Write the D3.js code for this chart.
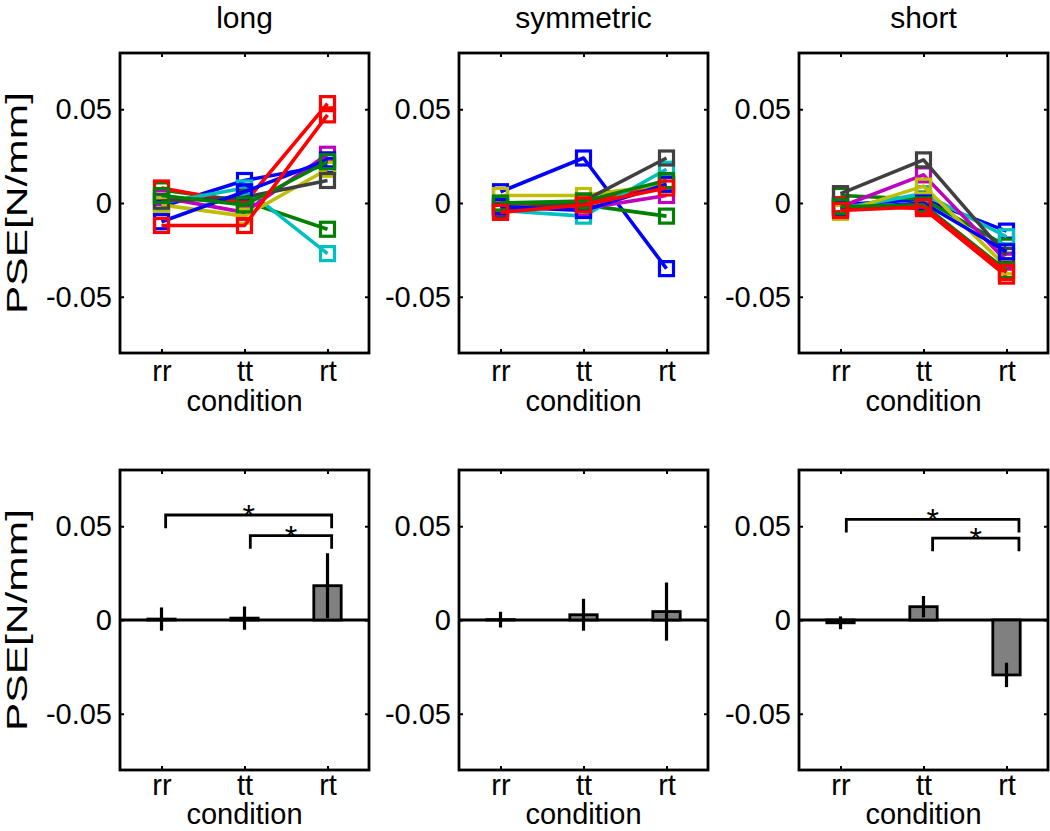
<!DOCTYPE html>
<html><head><meta charset="utf-8">
<script src="https://cdn.jsdelivr.net/npm/d3@7"></script>
<style>
body{margin:0;background:#fff;}
text{font-family:"Liberation Sans",Arial,Helvetica,sans-serif;fill:#000;}
</style></head>
<body><svg id="c" width="1050" height="831"></svg>
<script>
// ---- data ----
const conditions = ["rr", "tt", "rt"];
const panelTitles = ["long", "symmetric", "short"];
const subjectColors = ["#0000ff","#008000","#ff0000","#00bfbf","#bf00bf","#bfbf00","#404040","#0000ff","#008000","#ff0000"];
// PSE per subject [rr, tt, rt]
const longPSE = [
  [-0.002, 0.012, 0.020],
  [0.007, 0.001, -0.014],
  [0.008, 0.000, 0.053],
  [0.000, 0.008, -0.027],
  [0.003, -0.005, 0.026],
  [-0.001, -0.007, 0.018],
  [0.001, 0.003, 0.012],
  [-0.010, 0.006, 0.023],
  [0.004, -0.001, 0.022],
  [-0.012, -0.012, 0.047]
];
const symPSE = [
  [0.006, 0.024, -0.035],
  [-0.001, -0.001, -0.007],
  [-0.003, 0.000, 0.010],
  [-0.004, -0.007, 0.018],
  [-0.002, -0.003, 0.004],
  [0.004, 0.004, 0.010],
  [-0.004, 0.001, 0.024],
  [-0.002, -0.004, 0.010],
  [0.000, 0.001, 0.012],
  [-0.005, -0.001, 0.008]
];
const shortPSE = [
  [-0.001, 0.002, -0.015],
  [0.004, 0.002, -0.023],
  [-0.001, -0.003, -0.039],
  [-0.003, 0.005, -0.018],
  [-0.002, 0.015, -0.031],
  [-0.005, 0.009, -0.034],
  [0.005, 0.023, -0.028],
  [-0.003, 0.000, -0.026],
  [-0.002, -0.001, -0.036],
  [-0.004, -0.002, -0.037]
];
// group means and error bars
const longMean = [0.0005, 0.0010, 0.0183];
const longErr = [0.0062, 0.0062, 0.0173];
const symMean = [0.0002, 0.0028, 0.0045];
const symErr = [0.0042, 0.0085, 0.0155];
const shortMean = [-0.0015, 0.0071, -0.0293];
const shortErr = [0.0034, 0.0057, 0.0065];
// significance brackets: [x1, x2, level] (x in condition units 1..3)
const longBrackets = [[1.05, 3.05, 0.056], [2.07, 3.05, 0.045]];
const symBrackets = [];
const shortBrackets = [[1.07, 3.15, 0.0537], [2.11, 3.15, 0.0437]];
const yTicks = [-0.05, 0, 0.05];
const yTickLabels = ["-0.05", "0", "0.05"];
const yLabel = "PSE[N/mm]";
const xLabel = "condition";

// ---- layout ----
const svg = d3.select("#c");
const panelX = [120, 459, 799];
const panelW = 249;
const rows = [{top: 53, h: 300, xl: 58, tp: 7}, {top: 470, h: 300, xl: 54, tp: 4}];
const FS = 29;

const pse = [longPSE, symPSE, shortPSE];
const means = [longMean, symMean, shortMean];
const errs = [longErr, symErr, shortErr];
const brackets = [longBrackets, symBrackets, shortBrackets];

function frame(g, x, y, w, h, xl, tp) {
  const yAxisL = d3.axisLeft(y).tickValues(yTicks).tickFormat((d,i)=>yTickLabels[i]).tickSize(-4).tickPadding(8);
  const yAxisR = d3.axisRight(y).tickValues(yTicks).tickFormat("").tickSize(-4);
  const xAxisB = d3.axisBottom(x).tickValues([1,2,3]).tickFormat((d,i)=>conditions[i]).tickSize(-4).tickPadding(tp);
  const xAxisT = d3.axisTop(x).tickValues([1,2,3]).tickFormat("").tickSize(-4);
  const gl = g.append("g").call(yAxisL);
  const gr = g.append("g").attr("transform",`translate(${w},0)`).call(yAxisR);
  const gb = g.append("g").attr("transform",`translate(0,${h})`).call(xAxisB);
  const gt = g.append("g").call(xAxisT);
  [gl,gr,gb,gt].forEach(a=>{
    a.select(".domain").remove();
    a.selectAll(".tick line").attr("stroke","#000").attr("stroke-width",2);
    a.selectAll("text").style("font-size",FS+"px").style("font-family","'Liberation Sans',Arial,sans-serif").attr("fill","#000");
  });
  g.append("rect").attr("x",0).attr("y",0).attr("width",w).attr("height",h)
    .attr("fill","none").attr("stroke","#000").attr("stroke-width",2.8);
  g.append("text").attr("x",w/2).attr("y",h+xl).attr("text-anchor","middle")
    .style("font-size",FS+"px").text(xLabel);
}

for (let p = 0; p < 3; p++) {
  // ---- top row: individual subjects ----
  {
    const r = rows[0];
    const g = svg.append("g").attr("transform",`translate(${panelX[p]},${r.top})`);
    const x = d3.scaleLinear().domain([0.5,3.5]).range([0,panelW]);
    const y = d3.scaleLinear().domain([-0.08,0.08]).range([r.h,0]);
    const clip = "clip"+p;
    g.append("clipPath").attr("id",clip).append("rect").attr("width",panelW).attr("height",r.h);
    const plot = g.append("g").attr("clip-path",`url(#${clip})`);
    const line = d3.line().x((d,i)=>x(i+1)).y(d=>y(d));
    pse[p].forEach((s,si)=>{
      const sg = plot.append("g");
      sg.append("path").datum(s).attr("d",line).attr("fill","none")
        .attr("stroke",subjectColors[si]).attr("stroke-width",3.6).attr("stroke-linejoin","round");
      sg.selectAll("rect").data(s).join("rect")
        .attr("x",(d,i)=>x(i+1)-7).attr("y",d=>y(d)-7).attr("width",14).attr("height",14)
        .attr("fill","none").attr("stroke",subjectColors[si]).attr("stroke-width",3.2);
    });
    frame(g, x, y, panelW, r.h, r.xl, r.tp);
    g.append("text").attr("x",panelW/2).attr("y",-25).attr("text-anchor","middle")
      .style("font-size","30px").text(panelTitles[p]);
    if (p === 0) {
      g.append("text").attr("transform",`translate(${27-panelX[0]},${r.h/2}) rotate(-90)`)
        .attr("text-anchor","middle").style("font-size",FS+"px")
        .attr("textLength",222).attr("lengthAdjust","spacingAndGlyphs").text(yLabel);
    }
  }
  // ---- bottom row: means ----
  {
    const r = rows[1];
    const g = svg.append("g").attr("transform",`translate(${panelX[p]},${r.top})`);
    const x = d3.scaleLinear().domain([0.5,3.5]).range([0,panelW]);
    const y = d3.scaleLinear().domain([-0.08,0.08]).range([r.h,0]);
    const bw = 0.33;
    g.append("line").attr("x1",0).attr("x2",panelW).attr("y1",y(0)).attr("y2",y(0))
      .attr("stroke","#000").attr("stroke-width",2.8);
    g.selectAll("rect.bar").data(means[p]).join("rect").attr("class","bar")
      .attr("x",(d,i)=>x(i+1-bw/2)).attr("width",x(1+bw/2)-x(1-bw/2))
      .attr("y",d=>Math.min(y(d),y(0))).attr("height",d=>Math.abs(y(d)-y(0)))
      .attr("fill","#808080").attr("stroke","#000").attr("stroke-width",2.8);
    g.selectAll("line.err").data(means[p]).join("line").attr("class","err")
      .attr("x1",(d,i)=>x(i+1)).attr("x2",(d,i)=>x(i+1))
      .attr("y1",(d,i)=>y(d-errs[p][i])).attr("y2",(d,i)=>y(d+errs[p][i]))
      .attr("stroke","#000").attr("stroke-width",3.2);
    const drop = 0.007;
    brackets[p].forEach(b=>{
      g.append("path").attr("d",`M${x(b[0])},${y(b[2]-drop)}V${y(b[2])}H${x(b[1])}V${y(b[2]-drop)}`)
        .attr("fill","none").attr("stroke","#000").attr("stroke-width",2.8);
      g.append("text").attr("x",(x(b[0])+x(b[1]))/2).attr("y",y(b[2])+12)
        .attr("text-anchor","middle").style("font-size","32px").text("*");
    });
    frame(g, x, y, panelW, r.h, r.xl, r.tp);
    if (p === 0) {
      g.append("text").attr("transform",`translate(${27-panelX[0]},${r.h/2}) rotate(-90)`)
        .attr("text-anchor","middle").style("font-size",FS+"px")
        .attr("textLength",222).attr("lengthAdjust","spacingAndGlyphs").text(yLabel);
    }
  }
}
</script></body></html>
